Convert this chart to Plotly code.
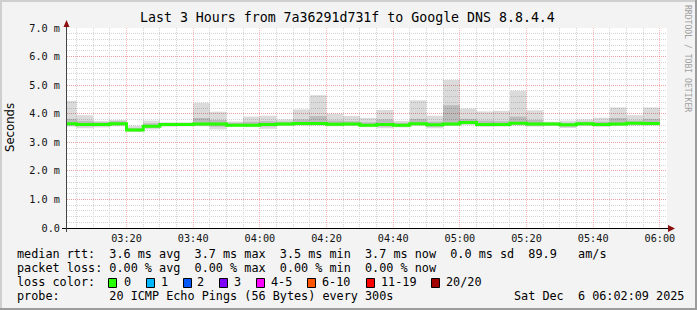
import plotly.graph_objects as go
import pandas as pd

# ---- data (5-minute bins, start times) ----
bin_start = pd.date_range("2025-12-06 03:00:00", periods=36, freq="5min")
median = [3.65, 3.62, 3.62, 3.65, 3.43, 3.56, 3.62, 3.62, 3.64, 3.64, 3.60, 3.60,
          3.62, 3.64, 3.66, 3.66, 3.63, 3.64, 3.60, 3.62, 3.60, 3.65, 3.61, 3.64,
          3.69, 3.62, 3.62, 3.67, 3.64, 3.64, 3.61, 3.65, 3.62, 3.64, 3.67, 3.66]
ping_max = [4.45, 3.95, 3.75, 3.78, 3.58, 3.76, 3.70, 3.70, 4.38, 4.07, 3.73, 3.90,
            3.93, 3.80, 4.15, 4.65, 4.00, 3.92, 3.85, 4.13, 3.75, 4.47, 3.93, 5.18,
            4.18, 4.08, 4.10, 4.80, 4.12, 3.72, 3.76, 3.80, 3.86, 4.22, 3.95, 4.22]
ping_q3 = [3.82, 3.75, 3.70, 3.74, 3.50, 3.66, 3.67, 3.67, 3.85, 3.78, 3.68, 3.72,
           3.74, 3.72, 3.80, 3.92, 3.76, 3.74, 3.70, 3.80, 3.68, 3.82, 3.72, 4.30,
           3.82, 3.76, 3.74, 3.90, 3.78, 3.69, 3.68, 3.72, 3.72, 3.85, 3.76, 3.82]
ping_q1 = [3.59, 3.56, 3.57, 3.60, 3.39, 3.50, 3.58, 3.58, 3.59, 3.55, 3.56, 3.56,
           3.56, 3.60, 3.61, 3.61, 3.59, 3.60, 3.56, 3.55, 3.55, 3.61, 3.55, 3.60,
           3.64, 3.58, 3.58, 3.62, 3.59, 3.60, 3.55, 3.61, 3.58, 3.60, 3.62, 3.62]
ping_min = [3.55, 3.49, 3.52, 3.56, 3.36, 3.45, 3.55, 3.56, 3.56, 3.45, 3.55, 3.53,
            3.47, 3.57, 3.58, 3.58, 3.56, 3.57, 3.53, 3.49, 3.52, 3.58, 3.49, 3.57,
            3.60, 3.54, 3.55, 3.58, 3.55, 3.57, 3.50, 3.57, 3.54, 3.57, 3.58, 3.58]

y_tickvals = [0, 1, 2, 3, 4, 5, 6, 7]
y_ticktext = ["0.0", "1.0 m", "2.0 m", "3.0 m", "4.0 m", "5.0 m", "6.0 m", "7.0 m"]

loss_labels = ["0", "1", "2", "3", "4-5", "6-10", "11-19", "20/20"]
loss_colors = ["#26ff00", "#00b8ff", "#0059ff", "#7e00ff", "#ff00ff", "#ff5500", "#ff0000", "#a10000"]

title = "Last 3 Hours from 7a36291d731f to Google DNS 8.8.4.4"
line_rtt = "median rtt:  3.6 ms avg  3.7 ms max  3.5 ms min  3.7 ms now  0.0 ms sd  89.9   am/s"
line_loss = "packet loss: 0.00 % avg  0.00 % max  0.00 % min  0.00 % now"
line_probe = "probe:       20 ICMP Echo Pings (56 Bytes) every 300s"
date_text = "Sat Dec  6 06:02:09 2025"

# ---- geometry helpers (pixel -> paper) ----
L, R, T, B = 67, 667, 28, 228
def px(x):
    return (x - L) / (R - L)
def py(y):
    return (B - y) / (B - T)

MONO = "DejaVu Sans Mono"
nb = lambda s: s.replace(" ", "\u00a0")

half = pd.Timedelta(seconds=150)
centers = bin_start + half
width_ms = 300000

fig = go.Figure()
fig.add_trace(go.Bar(
    x=centers, base=ping_min,
    y=[a - b for a, b in zip(ping_max, ping_min)],
    width=width_ms, marker=dict(color="rgba(0,0,0,0.14)", line=dict(width=0)),
    hoverinfo="skip"))
fig.add_trace(go.Bar(
    x=centers, base=ping_q1,
    y=[a - b for a, b in zip(ping_q3, ping_q1)],
    width=width_ms, marker=dict(color="rgba(0,0,0,0.14)", line=dict(width=0)),
    hoverinfo="skip"))
step_x = list(bin_start) + [bin_start[-1] + pd.Timedelta(minutes=5)]
step_y = median + [median[-1]]
fig.add_trace(go.Scatter(
    x=step_x, y=step_y, mode="lines", line=dict(color="#26ff00", width=3, shape="hv"),
    hoverinfo="skip"))

fig.update_layout(
    width=697, height=310, autosize=False,
    margin=dict(l=L, r=697 - R, t=T, b=310 - B, pad=0),
    paper_bgcolor="#f3f3f3", plot_bgcolor="#ffffff",
    showlegend=False, barmode="overlay",
    font=dict(family=MONO, size=10, color="#000000"),
)
fig.update_xaxes(
    type="date",
    range=["2025-12-06 03:02:09", "2025-12-06 06:02:09"],
    tick0="2025-12-06 03:00:00", dtick=1200000, tickformat="%H:%M",
    showgrid=True, gridcolor="rgba(255,110,110,0.5)", griddash="1px,1px", gridwidth=1,
    minor=dict(tick0="2025-12-06 03:00:00", dtick=300000, showgrid=True,
               gridcolor="#d4d4d4", griddash="1px,1px", gridwidth=1),
    showline=False, zeroline=False, ticks="",
    tickfont=dict(family=MONO, size=10.2, color="#111"),
    ticklabelstandoff=3,
    fixedrange=True,
)
fig.update_yaxes(
    range=[0, 7], tickvals=y_tickvals, ticktext=y_ticktext,
    showgrid=True, gridcolor="rgba(255,110,110,0.5)", griddash="1px,1px", gridwidth=1,
    minor=dict(dtick=0.2, showgrid=True, gridcolor="#d4d4d4", griddash="1px,1px", gridwidth=1),
    showline=False, zeroline=False, ticks="",
    tickfont=dict(family=MONO, size=10.2, color="#111"),
    ticklabelstandoff=6,
    fixedrange=True,
)

shapes = []
def rect(x0, y0, x1, y1, fill, line=None):
    d = dict(type="rect", xref="paper", yref="paper", layer="above",
             x0=px(x0), x1=px(x1), y0=py(y0), y1=py(y1), fillcolor=fill,
             line=dict(width=0) if line is None else line)
    shapes.append(d)

# frame
rect(0, 0, 697, 2, "#cfcfcf")
rect(0, 0, 2, 310, "#cfcfcf")
rect(0, 308, 697, 310, "#9c9c9c")
rect(695, 0, 697, 310, "#9c9c9c")

# axis lines
shapes.append(dict(type="line", xref="paper", yref="paper", x0=px(62), x1=px(669),
                   y0=py(228.5), y1=py(228.5), line=dict(color="#000000", width=1), layer="above"))
shapes.append(dict(type="line", xref="paper", yref="paper", x0=px(66.5), x1=px(66.5),
                   y0=py(232), y1=py(24), line=dict(color="#444444", width=1), layer="above"))
# arrows
shapes.append(dict(type="path", xref="paper", yref="paper", layer="above",
                   path=f"M {px(63.5)},{py(27)} L {px(69.5)},{py(27)} L {px(66.5)},{py(20)} Z",
                   fillcolor="#8b0f0f", line=dict(width=0)))
shapes.append(dict(type="path", xref="paper", yref="paper", layer="above",
                   path=f"M {px(668)},{py(225)} L {px(668)},{py(232)} L {px(675)},{py(228.5)} Z",
                   fillcolor="#8b0f0f", line=dict(width=0)))

# loss color boxes
box_x = [108, 146, 183, 219, 256, 307, 366, 431]
label_x = [123, 160, 196, 233, 270, 321, 380, 445]
for bx, c in zip(box_x, loss_colors):
    rect(bx + 0.5, 278.5, bx + 8.5, 287.5, c, line=dict(color="#000000", width=1))

annotations = []
def text(x, y, s, size=11.8, anchor="left", family=MONO, color="#000", angle=0):
    annotations.append(dict(xref="paper", yref="paper", x=px(x), y=py(y), text=nb(s),
                            showarrow=False, xanchor=anchor, yanchor="middle",
                            textangle=angle, borderpad=0,
                            font=dict(family=family, size=size, color=color)))

text(347.5, 18, title, size=13.25, anchor="center")
text(16, 254, line_rtt)
text(16, 268, line_loss)
text(16, 282, "loss color:")
for lx, lab in zip(label_x, loss_labels):
    text(lx, 282, lab)
text(16, 296, line_probe)
text(513, 296, date_text)
text(10, 128, "Seconds", size=11.7, anchor="center", family="DejaVu Sans", angle=-90)
text(688, 58, "RRDTOOL / TOBI OETIKER", size=8.1, anchor="center", color="#a0a0a0", angle=90)

fig.update_layout(shapes=shapes, annotations=annotations)
fig.write_html("out.html")
